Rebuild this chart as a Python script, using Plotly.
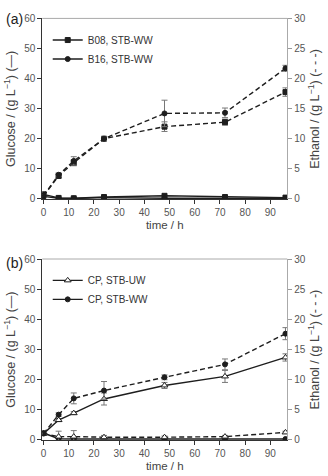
import plotly.graph_objects as go

time_h = [0, 6, 12, 24, 48, 72, 96]

# Panel (a)
b08_glucose = [1.5, 0.3, 0.2, 0.6, 1.0, 0.6, 0.4]
b16_glucose = [0.8, 0.2, 0.1, 0.4, 0.2, 0.3, 0.2]
b08_ethanol = [0.5, 3.8, 6.0, 10.0, 12.0, 12.75, 17.75]
b08_ethanol_err = [0.2, 0.3, 0.5, 0.3, 0.8, 0.5, 0.7]
b16_ethanol = [0.5, 4.0, 6.3, 10.0, 14.2, 14.3, 21.7]
b16_ethanol_err = [0.2, 0.3, 0.7, 0.3, 2.2, 0.8, 0.5]

# Panel (b)
cpuw_glucose = [2.0, 6.5, 8.8, 13.5, 18.0, 21.0, 27.3]
cpuw_glucose_err = [0.3, 0.5, 0.5, 2.0, 1.0, 2.0, 1.2]
cpww_glucose = [2.2, 0.3, 0.2, 0.2, 0.2, 0.2, 0.2]
cpuw_ethanol = [1.0, 0.5, 0.5, 0.4, 0.4, 0.5, 1.2]
cpuw_ethanol_err = [0.2, 0.9, 1.0, 0.3, 0.2, 0.2, 0.2]
cpww_ethanol = [1.0, 4.15, 6.85, 8.15, 10.35, 12.5, 17.6]
cpww_ethanol_err = [0.2, 0.3, 0.9, 1.5, 0.4, 0.9, 1.0]

INK = "#1e1e1e"
ERR = "#777777"
DASH = "5px,3px"
FONT = "Liberation Sans, Arial, sans-serif"

fig = go.Figure()


def add(y, yaxis, sym, dash, name=None, legend=None, err=None, fill=INK, size=5):
    fig.add_trace(go.Scatter(
        x=time_h, y=y, yaxis=yaxis, mode="lines+markers", name=name,
        showlegend=name is not None, legend=legend,
        line=dict(color=INK, width=1.4, dash=dash),
        marker=dict(symbol=sym, size=size, color=fill, line=dict(color=INK, width=1)),
        error_y=dict(type="data", array=err, visible=err is not None,
                     color=ERR, thickness=1, width=3),
    ))


# (a)
add(b08_glucose, "y", "square", "solid", "B08, STB-WW", "legend")
add(b16_glucose, "y", "circle", "solid", "B16, STB-WW", "legend")
add(b08_ethanol, "y2", "square", DASH, err=b08_ethanol_err)
add(b16_ethanol, "y2", "circle", DASH, err=b16_ethanol_err)

# (b)
add(cpuw_glucose, "y3", "triangle-up", "solid", "CP, STB-UW", "legend2",
    err=cpuw_glucose_err, fill="white", size=6)
add(cpww_glucose, "y3", "circle", "solid", "CP, STB-WW", "legend2")
add(cpuw_ethanol, "y4", "triangle-up", DASH, err=cpuw_ethanol_err, fill="white", size=6)
add(cpww_ethanol, "y4", "circle", DASH, err=cpww_ethanol_err)

for t in fig.data[4:]:
    t.xaxis = "x2"

W, H = 328, 476
xdom = [40.5 / W, 287 / W]
ya = [1 - 198 / H, 1 - 12.7 / H]
yb = [1 - 444.5 / H, 1 - 259 / H]

tickfont = dict(family=FONT, size=10, color="#555")
titlefont = dict(family=FONT, size=12.5, color="#444")

xcommon = dict(range=[-0.5, 96.7], dtick=10, tick0=0, showline=True, linecolor="#333",
               linewidth=1, ticks="outside", ticklen=4, tickcolor="#333",
               showgrid=False, zeroline=False, tickfont=tickfont,
               title=dict(text="time / h", font=dict(family=FONT, size=11.5, color="#444"),
                          standoff=3))
yleft = dict(range=[-0.2, 60], dtick=10, showline=True, linecolor="#333", linewidth=1,
             ticks="outside", ticklen=4, tickcolor="#333", showgrid=False, zeroline=False,
             tickfont=tickfont,
             title=dict(text="Glucose / (g L<sup>−1</sup>) (—)", font=titlefont, standoff=5))
yright = dict(range=[-0.1, 30], dtick=5, showline=True, linecolor="#aaa", linewidth=1,
              ticks="outside", ticklen=4, tickcolor="#999", showgrid=False, zeroline=False,
              side="right", tickfont=tickfont,
              title=dict(text="Ethanol / (g L<sup>−1</sup>) (- - -)", font=titlefont, standoff=5))

legfont = dict(family=FONT, size=10, color="#333")
fig.update_layout(
    width=W, height=H, margin=dict(l=0, r=0, t=0, b=0),
    paper_bgcolor="white", plot_bgcolor="white",
    xaxis=dict(domain=xdom, anchor="y", **xcommon),
    xaxis2=dict(domain=xdom, anchor="y3", **xcommon),
    yaxis=dict(domain=ya, anchor="x", **yleft),
    yaxis2=dict(overlaying="y", anchor="x", **yright),
    yaxis3=dict(domain=yb, anchor="x2", **yleft),
    yaxis4=dict(overlaying="y3", anchor="x2", **yright),
    legend=dict(x=46 / W, y=1 - 20 / H, xanchor="left", yanchor="top",
                bgcolor="rgba(0,0,0,0)", font=legfont, itemwidth=30, tracegroupgap=0),
    legend2=dict(x=46 / W, y=1 - 266 / H, xanchor="left", yanchor="top",
                 bgcolor="rgba(0,0,0,0)", font=legfont, itemwidth=30, tracegroupgap=0),
    showlegend=True,
)

for xr, yr in (("x domain", "y domain"), ("x2 domain", "y3 domain")):
    fig.add_shape(type="line", xref=xr, yref=yr, x0=0, x1=1, y0=1, y1=1,
                  line=dict(color="#aaa", width=1))

fig.add_annotation(text="(a)", x=2 / W, y=1 - 13 / H, xref="paper", yref="paper",
                   xanchor="left", yanchor="middle", showarrow=False,
                   font=dict(family=FONT, size=14, color="#222"))
fig.add_annotation(text="(b)", x=2 / W, y=1 - 263 / H, xref="paper", yref="paper",
                   xanchor="left", yanchor="middle", showarrow=False,
                   font=dict(family=FONT, size=14, color="#222"))

fig.write_html("out.html")
